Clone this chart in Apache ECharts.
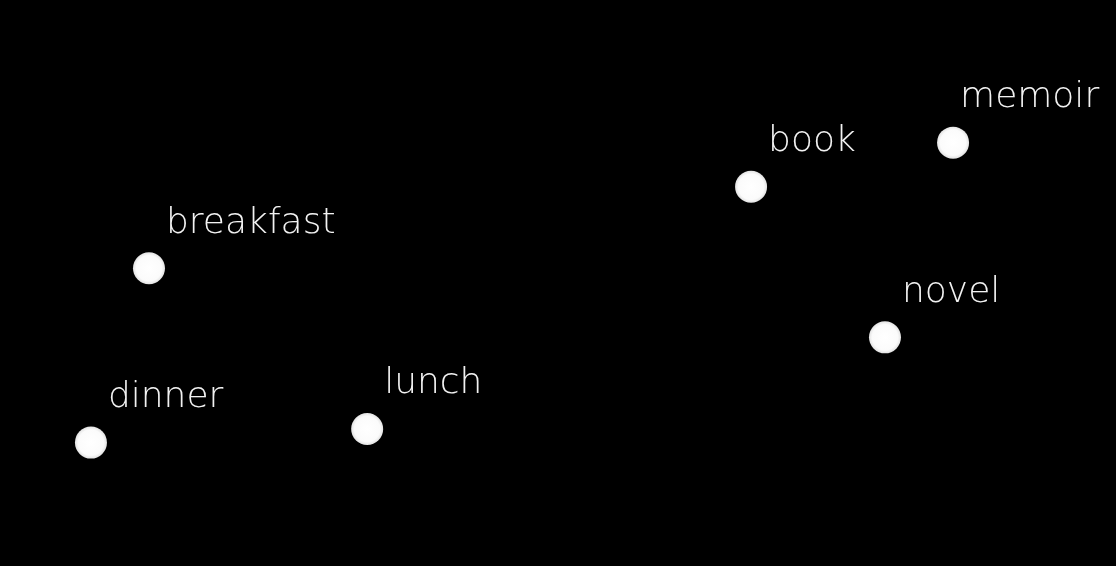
<!DOCTYPE html>
<html>
<head>
<meta charset="utf-8">
<title>word embedding</title>
<script src="https://cdn.jsdelivr.net/npm/echarts@6/dist/echarts.min.js"></script>
<style>
    html, body { margin: 0; padding: 0; background: #000; }
    #chart { width: 1116px; height: 566px; }
</style>
</head>
<body>
<div id="chart"></div>
<script>
// ==============================================================
// words and their position in the 2d embedding space
// ==============================================================
var words = ['breakfast', 'dinner', 'lunch', 'book', 'memoir', 'novel'];
var xValues = [13.35, 8.15, 32.9, 67.3, 85.4, 79.3];
var yValues = [26.3, 10.9, 12.1, 33.5, 37.4, 20.2];

// memoir's label sits a little closer to its dot than the others
var labelNudge = { memoir: [23, -29] };

var chart = echarts.init(document.getElementById('chart'));

var points = words.map(function (w, i) {
    var p = { name: w, value: [xValues[i], yValues[i]] };
    if (labelNudge[w]) p.label = { position: labelNudge[w] };
    return p;
});

var option = {
    backgroundColor: '#000',
    animation: false,
    grid: { left: 0, right: 0, top: 0, bottom: 0 },
    xAxis: { type: 'value', min: 0, max: 100, show: false },
    yAxis: { type: 'value', min: 0, max: 50, show: false },
    series: [{
        type: 'scatter',
        symbol: 'circle',
        symbolSize: 32,
        data: points,
        itemStyle: {
            opacity: 1,
            color: {
                type: 'radial', x: 0.5, y: 0.5, r: 0.5,
                colorStops: [
                    { offset: 0, color: '#ffffff' },
                    { offset: 0.8, color: '#fbfbfb' },
                    { offset: 1, color: '#e2e2e2' }
                ]
            }
        },
        label: {
            show: true,
            formatter: '{b}',
            position: [33, -29],
            align: 'left',
            verticalAlign: 'middle',
            color: '#f2f2f2',
            fontFamily: '"DejaVu Sans", sans-serif',
            fontWeight: 200,
            fontSize: 36
        }
    }]
};

chart.setOption(option);
</script>
</body>
</html>
